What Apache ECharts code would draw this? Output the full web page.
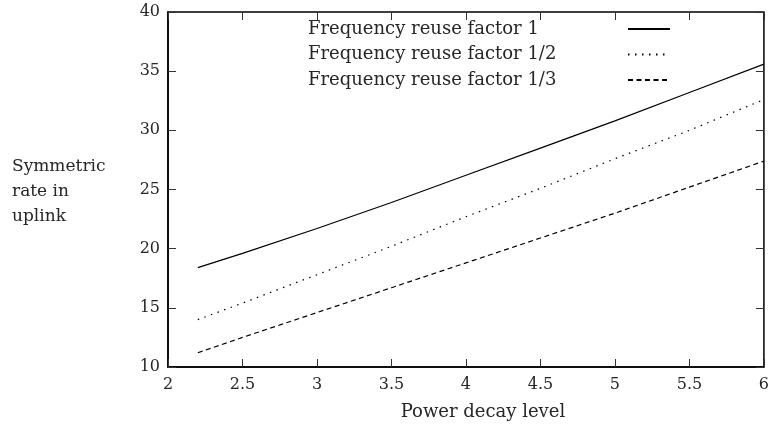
<!DOCTYPE html>
<html>
<head>
<meta charset="utf-8">
<script src="https://cdn.jsdelivr.net/npm/echarts@6/dist/echarts.min.js"></script>
<style>
  html, body { margin: 0; padding: 0; background: #fff; }
  #chart { width: 772px; height: 428px; }
</style>
</head>
<body>
<div id="chart"></div>
<script>
// values
var decayLevel = [2.2, 2.5, 3.0, 3.5, 4.0, 4.5, 5.0, 5.5, 6.0];
var reuse1 = [18.4, 19.6, 21.7, 23.9, 26.2, 28.5, 30.8, 33.2, 35.6];
var reuseHalf = [14.0, 15.4, 17.8, 20.2, 22.7, 25.1, 27.6, 30.0, 32.6];
var reuseThird = [11.2, 12.5, 14.6, 16.7, 18.8, 20.9, 23.0, 25.2, 27.4];
var seriesNames = ['Frequency reuse factor 1', 'Frequency reuse factor 1/2', 'Frequency reuse factor 1/3'];

var serif = '"DejaVu Serif", "Liberation Serif", serif';
var ink = '#262626';

function pairs(ys) {
    return decayLevel.map(function (x, i) { return [x, ys[i]]; });
}

function lineSeries(name, ys, dash) {
    return {
        name: name,
        type: 'line',
        symbol: 'none',
        animation: false,
        lineStyle: { color: '#000', width: 1.2, type: dash },
        itemStyle: { color: '#000' },
        data: pairs(ys)
    };
}

var tickStyle = { show: true, inside: true, length: 8, lineStyle: { color: '#333', width: 1 } };

var myChart = echarts.init(document.getElementById('chart'));

var option = {
    backgroundColor: '#fff',
    textStyle: { fontFamily: serif },
    grid: {
        left: 168,
        right: 1,
        top: 12,
        bottom: 61,
        show: true,
        borderColor: '#000',
        borderWidth: 1.5
    },
    legend: {
        orient: 'vertical',
        left: 303,
        top: 15,
        align: 'right',
        itemWidth: 42,
        itemHeight: 14,
        itemGap: 7.5,
        selectedMode: false,
        itemStyle: { color: 'rgba(0,0,0,0)', borderWidth: 0 },
        formatter: '{a|{name}}',
        textStyle: {
            rich: {
                a: { fontFamily: serif, fontSize: 18, color: ink, width: 315, align: 'left' }
            }
        },
        data: seriesNames
    },
    xAxis: [
        {
            type: 'value',
            min: 2,
            max: 6,
            interval: 0.5,
            name: 'Power decay level',
            nameLocation: 'middle',
            nameGap: 36,
            nameTextStyle: { fontFamily: serif, fontSize: 18, color: ink, padding: [0, 0, 0, 34] },
            axisLine: { show: true, lineStyle: { color: '#000', width: 1.5 } },
            axisTick: tickStyle,
            axisLabel: { fontFamily: serif, fontSize: 16, color: ink, margin: 10 },
            splitLine: { show: false }
        },
        {
            type: 'value',
            position: 'top',
            min: 2,
            max: 6,
            interval: 0.5,
            axisLine: { show: false },
            axisTick: tickStyle,
            axisLabel: { show: false },
            splitLine: { show: false }
        }
    ],
    yAxis: [
        {
            type: 'value',
            min: 10,
            max: 40,
            interval: 5,
            axisLine: { show: true, lineStyle: { color: '#000', width: 1.5 } },
            axisTick: tickStyle,
            axisLabel: { fontFamily: serif, fontSize: 16, color: ink, margin: 8 },
            splitLine: { show: false }
        },
        {
            type: 'value',
            position: 'right',
            min: 10,
            max: 40,
            interval: 5,
            axisLine: { show: false },
            axisTick: tickStyle,
            axisLabel: { show: false },
            splitLine: { show: false }
        }
    ],
    graphic: [
        {
            type: 'text',
            left: 12,
            top: 154,
            style: {
                text: 'Symmetric\nrate in\nuplink',
                font: '17px ' + serif,
                fill: ink,
                lineHeight: 25
            }
        }
    ],
    series: [
        lineSeries(seriesNames[0], reuse1, 'solid'),
        lineSeries(seriesNames[1], reuseHalf, [1.5, 5.5]),
        lineSeries(seriesNames[2], reuseThird, [5, 3.5])
    ]
};

myChart.setOption(option);
</script>
</body>
</html>
